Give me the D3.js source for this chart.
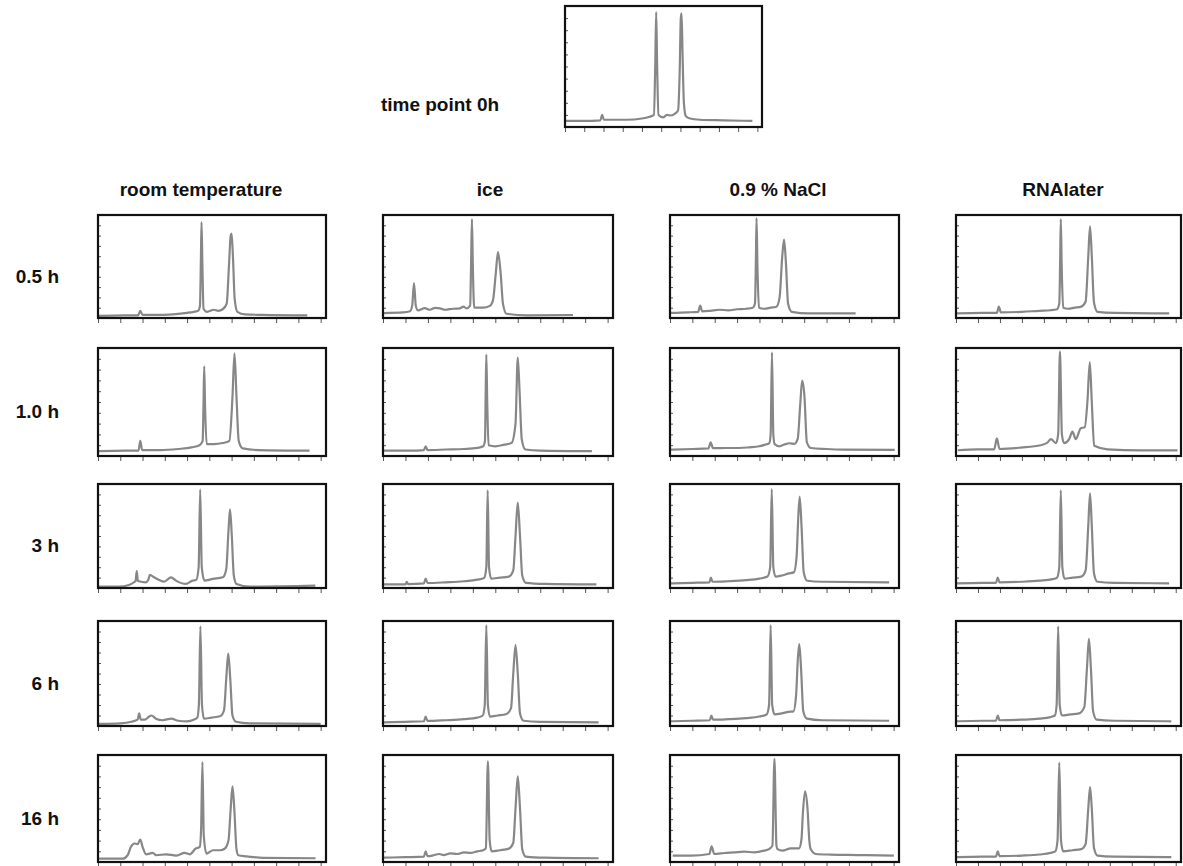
<!DOCTYPE html>
<html>
<head>
<meta charset="utf-8">
<script src="https://cdn.jsdelivr.net/npm/d3@7"></script>
<style>
  body { margin: 0; background: #fff; }
  svg { display: block; font-family: 'Liberation Sans', Arial, sans-serif; }
</style>
</head>
<body>
<div id="chart"></div>
<script>
// conditions and time points
const columns = ['room temperature', 'ice', '0.9 % NaCl', 'RNAlater']
const rows = ['0.5 h', '1.0 h', '3 h', '6 h', '16 h']
const timeTicks = [19, 24, 29, 34, 39, 44, 49, 54, 59, 64, 69]
const fuTicks = [0, 10, 20, 30, 40, 50, 60, 70, 80, 90, 100]

// electropherogram traces: [migration time (s), fluorescence (FU)]
const t0 = [[19, 5], [24, 5], [28.2, 5.5], [28.65, 10], [29.1, 6], [35, 6], [39, 7], [41, 8.5], [42.1, 10], [42.45, 50], [42.7, 95], [42.95, 50], [43.3, 10], [44.5, 8], [45.5, 10], [46.5, 9.5], [47.6, 11], [48.4, 14], [48.8, 45], [49.1, 90], [49.3, 94], [49.55, 60], [49.9, 20], [50.4, 9], [51.5, 7], [54, 6], [60, 5.5], [67.7, 5]]

const rt05 = [[19.2, 2], [25, 2.5], [28, 2.5], [28.5, 7], [29, 3], [33, 3], [37, 4], [39, 5], [40.5, 6], [41.5, 7], [41.9, 12], [42.1, 55], [42.25, 93], [42.45, 50], [42.7, 9], [43.5, 6], [45, 8], [46, 7], [47, 8.5], [47.9, 14], [48.4, 50], [48.8, 80], [49, 82], [49.3, 60], [49.7, 18], [50.3, 6], [52, 3.5], [56, 3], [66, 2.5]]
const rt10 = [[19.2, 4.5], [25, 5], [28.1, 5], [28.5, 14], [28.9, 5.5], [33, 5.5], [37, 6.5], [40, 8], [41.8, 10], [42.5, 14], [42.7, 50], [42.85, 83], [43.05, 45], [43.4, 11], [45, 11], [47, 12], [48.5, 14], [49.2, 55], [49.65, 95], [50.1, 55], [50.6, 14], [51.5, 7], [55, 5.5], [66.5, 5]]
const rt3 = [[19.15, 1.3], [23.7, 1.3], [25.95, 2.9], [27.1, 5.5], [27.45, 7], [27.7, 16.2], [27.95, 7], [28.2, 6.5], [29.7, 5.5], [30.3, 8], [30.65, 12.6], [31.6, 10.3], [32.75, 7.7], [33.85, 6.1], [35.4, 10.3], [36.5, 7.1], [38.75, 3.9], [40.25, 7.1], [41.05, 7.7], [41.6, 20], [41.95, 94.5], [42.3, 20], [42.9, 7.1], [44.8, 8.7], [47.05, 10.3], [47.8, 18], [48.3, 55], [48.65, 75.7], [49.05, 50], [49.5, 12], [50.1, 3.9], [53.1, 1.3], [67.8, 2.2]]
const rt6 = [[19.2, 2], [24, 2.5], [26.5, 4], [27.9, 6], [28.25, 12], [28.6, 6], [29.5, 6], [30.5, 9], [31, 10], [32, 7], [33.5, 5.5], [35.5, 7], [37, 5], [39, 4.5], [40.5, 6], [41.3, 8], [41.65, 20], [42, 95], [42.35, 20], [42.8, 7], [44.5, 8], [46.5, 9.5], [47.3, 15], [47.8, 45], [48.25, 69], [48.7, 45], [49.2, 10], [50, 4], [53, 2.5], [69, 2]]
const rt16 = [[19.25, 3.1], [24.5, 3.1], [25.65, 6.3], [26.4, 14.2], [27.15, 17.3], [27.9, 16.7], [28.5, 21], [29, 14.2], [29.8, 7.2], [31.3, 8.5], [32.05, 6.3], [34.3, 7.2], [36.6, 6], [38.45, 8.5], [39.6, 7.2], [40.95, 12.6], [41.85, 14.2], [42.15, 30], [42.45, 93.4], [42.75, 25], [43.35, 7.9], [44.85, 11], [46.4, 11], [47.5, 12.6], [48.3, 20], [48.8, 50], [49.2, 70.8], [49.6, 50], [50.1, 12], [50.5, 6.3], [52.4, 5.3], [56.15, 3.8], [67.85, 3.5]]

const ice05 = [[19.2, 4.8], [23.5, 5.4], [25, 6.5], [25.5, 12], [25.9, 34], [26.3, 12], [26.8, 7.3], [28.3, 9.6], [29.4, 8], [30.6, 9.9], [31.7, 9.4], [32.8, 8], [34.6, 9], [36.1, 9.4], [36.9, 11], [37.6, 9.4], [38.4, 12], [38.6, 50], [38.8, 96], [39, 50], [39.3, 10], [41.3, 10], [42.8, 11.8], [43.5, 17.6], [44.1, 43], [44.6, 64], [45.2, 43], [45.7, 14], [46.5, 4.1], [51, 2.5], [61.3, 2.9]]
const ice10 = [[19.2, 5], [25, 5], [28.1, 5.5], [28.5, 9], [28.9, 5.5], [33, 6], [37, 6.5], [40, 7.5], [41.3, 9], [41.7, 14], [41.85, 55], [42, 94], [42.2, 50], [42.5, 10], [44, 9], [46, 10.5], [47.6, 12], [48.5, 30], [49, 91], [49.4, 60], [49.9, 15], [50.7, 6], [54, 5], [65.5, 4.5]]
const ice3 = [[19.2, 3.5], [24, 3.5], [24.3, 6], [24.6, 3.8], [28.1, 4.5], [28.5, 9], [28.9, 4.8], [33, 5.5], [37, 6.5], [40, 8], [41.5, 9.5], [42, 20], [42.3, 94], [42.6, 20], [43.1, 9], [45, 10], [47, 11], [48, 17], [48.5, 50], [49, 82], [49.5, 50], [50, 12], [50.8, 5], [55, 4], [66.5, 3.5]]
const ice6 = [[19.2, 3.5], [24, 4], [28.1, 4.5], [28.5, 9], [28.9, 4.8], [33, 5.5], [37, 6.5], [40, 8], [41.2, 10], [41.65, 20], [42, 96], [42.35, 20], [42.8, 9], [44.5, 10], [46.5, 11.5], [47.5, 17], [48, 50], [48.5, 77], [49, 50], [49.5, 12], [50.3, 5], [54, 4], [67, 3.5]]
const ice16 = [[19.2, 4], [24, 4.5], [28.1, 5], [28.5, 10], [28.9, 5.5], [30, 6], [31.5, 7.5], [32.5, 6.5], [34, 8], [35.5, 7.5], [37, 9], [38.5, 8.5], [40, 10], [41.3, 11], [41.9, 13], [42.35, 94], [42.75, 20], [43.2, 10], [45, 11], [47, 12.5], [48, 18], [48.5, 50], [49, 80], [49.5, 50], [50, 12], [50.8, 5], [55, 4], [67, 3.5]]

const nacl05 = [[19.2, 5], [23, 5.5], [25.3, 6], [25.75, 12], [26.2, 6.5], [28, 7], [30, 8], [32, 7.5], [34, 8.5], [36, 9], [37.5, 10], [38, 14], [38.2, 55], [38.35, 97], [38.55, 50], [38.9, 10], [40, 9], [41.5, 10], [42.8, 11], [43.5, 20], [44.1, 60], [44.5, 76], [44.9, 55], [45.4, 14], [46.2, 6], [50, 4.5], [60.5, 4.5]]
const nacl10 = [[19.2, 5.9], [24, 6.5], [27.6, 7], [28.1, 12.7], [28.6, 7.2], [31.5, 7.4], [34.5, 7.4], [36.7, 8], [38.95, 9], [40.1, 10.3], [41.2, 12], [41.5, 20], [41.8, 96], [42.1, 20], [42.4, 11], [43.45, 9], [44.55, 10.6], [45.7, 11.8], [46.8, 11.2], [47.55, 15.8], [48.1, 46.6], [48.55, 69.8], [49.05, 55.9], [49.6, 12.7], [50.55, 7.4], [53.9, 6.5], [57.65, 5.9], [69.25, 5.6]]
const nacl3 = [[19.2, 4.5], [24, 5], [27.8, 5.5], [28.15, 10], [28.5, 6], [32, 6.5], [36, 7.5], [39, 9], [40.8, 11], [41.4, 20], [41.75, 95], [42.1, 20], [42.6, 11], [44, 12], [45.5, 14], [46.7, 15], [47.3, 30], [47.7, 70], [48, 88], [48.4, 60], [48.9, 15], [49.7, 7], [53, 6], [68, 5.5]]
const nacl6 = [[19.2, 4.5], [24, 5], [27.9, 5.5], [28.25, 10], [28.6, 6], [32, 6.5], [36, 7.5], [39, 9], [40.6, 11], [41.15, 20], [41.5, 96], [41.85, 20], [42.4, 11], [44, 12], [45.5, 13.5], [46.6, 14], [47.2, 30], [47.6, 65], [47.9, 78], [48.3, 55], [48.8, 14], [49.6, 7], [53, 5.5], [68, 5]]
const nacl16 = [[19.6, 5.9], [23.7, 5.9], [27.8, 7.5], [28.3, 14.6], [28.9, 7.5], [31.15, 8.4], [33.35, 9], [35.6, 9.7], [37.8, 9], [40.05, 10.6], [41.15, 12.1], [41.9, 15.3], [42.35, 96.3], [42.8, 15.3], [43.05, 12.1], [44.15, 10.6], [46, 12.8], [47.85, 12.8], [48.4, 21.5], [48.7, 45], [49.2, 66], [49.75, 49.5], [50.15, 20], [50.45, 12.1], [51.6, 7.5], [54.95, 6.9], [60.9, 6.5], [69.05, 5.9]]

const rna05 = [[19.2, 4.5], [25, 5], [28.3, 5], [28.75, 11], [29.2, 5.5], [34, 6], [38, 7], [40.5, 7.5], [42, 8.5], [42.5, 14], [42.7, 55], [42.85, 96], [43.05, 50], [43.4, 10], [44.5, 9], [46, 10], [47.5, 11], [48.5, 16], [49.1, 60], [49.5, 89], [49.9, 60], [50.4, 15], [51.2, 6], [55, 5], [67.5, 4.5]]
const rna10 = [[19.4, 5.3], [23.9, 6.2], [27.7, 6.2], [28.3, 16.3], [28.9, 6.5], [33.75, 7.8], [38.3, 10], [39.85, 12.5], [40.6, 15.6], [41.75, 11.9], [42.25, 20], [42.65, 96.9], [43.1, 20], [43.6, 11.9], [44.75, 15.6], [45.5, 22.5], [46.25, 15.6], [47.4, 25.7], [48.3, 26.6], [48.9, 50], [49.45, 86.9], [49.9, 50], [50.45, 9.4], [53.45, 6.2], [61, 5.3], [69.4, 5.3]]
const rna3 = [[19.2, 4.5], [25, 5], [28.1, 5], [28.5, 10], [28.9, 5.5], [34, 6], [38, 7], [41, 8.5], [42, 10], [42.5, 20], [42.85, 94], [43.2, 20], [43.7, 9], [45.5, 10], [47.5, 11], [48.5, 17], [49.1, 60], [49.5, 91], [49.9, 60], [50.4, 14], [51.2, 6], [55, 5], [67.5, 4.5]]
const rna6 = [[19.2, 4.5], [25, 5], [28.1, 5], [28.5, 10], [28.9, 5.5], [34, 6], [38, 7], [40.5, 8.5], [41.5, 10], [41.9, 20], [42.25, 95], [42.6, 20], [43.1, 10], [45, 11], [47, 12], [48.2, 18], [48.8, 55], [49.25, 83], [49.7, 55], [50.2, 14], [51, 6], [55, 5], [68, 4.5]]
const rna16 = [[19.2, 4.5], [25, 5], [28.1, 5], [28.5, 10], [28.9, 5.5], [34, 6], [38, 7], [40.5, 8.5], [41.6, 10], [42.1, 20], [42.5, 93], [42.9, 20], [43.4, 10], [45.5, 11], [47.5, 12], [48.5, 17], [49.1, 50], [49.5, 70], [49.9, 50], [50.4, 13], [51.2, 6], [55, 5], [68, 4.5]]

const traces = [
  [rt05, rt10, rt3, rt6, rt16],
  [ice05, ice10, ice3, ice6, ice16],
  [nacl05, nacl10, nacl3, nacl6, nacl16],
  [rna05, rna10, rna3, rna6, rna16]
]

// layout
const width = 1183
const height = 866
const colLeft = [98, 383, 670, 956]
const colWidth = [228, 230, 229, 225]
const colLabelX = [201, 490, 778, 1063]
const rowTop = [215, 348, 484, 621, 755]
const rowHeight = [103, 108, 104, 105, 107]

const svg = d3.select('#chart').append('svg')
  .attr('width', width)
  .attr('height', height)

svg.append('rect')
  .attr('width', width)
  .attr('height', height)
  .attr('fill', '#fff')

const line = (x, y) => d3.line()
  .x(d => x(d[0]))
  .y(d => y(d[1]))
  .curve(d3.curveMonotoneX)

const drawPanel = (trace, box) => {
  const x = d3.scaleLinear().domain([19, 70.2]).range([box.x, box.x + box.w])
  const y = d3.scaleLinear().domain([0, 100]).range([box.y + box.h, box.y])
  const g = svg.append('g')

  g.append('g')
    .attr('transform', `translate(0,${box.y + box.h})`)
    .call(d3.axisBottom(x).tickValues(timeTicks).tickSize(5).tickFormat(''))

  g.append('g')
    .attr('transform', `translate(${box.x},0)`)
    .call(d3.axisLeft(y).tickValues(fuTicks).tickSize(-3).tickFormat(''))

  g.selectAll('.domain').remove()
  g.selectAll('.tick line').attr('stroke', '#555')

  g.append('path')
    .datum(trace)
    .attr('d', line(x, y))
    .attr('fill', 'none')
    .attr('stroke', '#878787')
    .attr('stroke-width', 2.2)
    .attr('stroke-linejoin', 'round')

  g.append('rect')
    .attr('x', box.x)
    .attr('y', box.y)
    .attr('width', box.w)
    .attr('height', box.h)
    .attr('fill', 'none')
    .attr('stroke', '#111')
    .attr('stroke-width', 2.2)
}

// reference at time point 0h
drawPanel(t0, { x: 565, y: 6, w: 197, h: 121 })
svg.append('text')
  .attr('x', 440)
  .attr('y', 111)
  .attr('text-anchor', 'middle')
  .attr('font-size', 19)
  .attr('font-weight', 'bold')
  .attr('fill', '#111')
  .text('time point 0h')

columns.forEach((c, i) => {
  svg.append('text')
    .attr('x', colLabelX[i])
    .attr('y', 196)
    .attr('text-anchor', 'middle')
    .attr('font-size', 19)
    .attr('font-weight', 'bold')
    .attr('fill', '#111')
    .text(c)

  rows.forEach((r, j) => {
    drawPanel(traces[i][j], { x: colLeft[i], y: rowTop[j], w: colWidth[i], h: rowHeight[j] })
  })
})

rows.forEach((r, j) => {
  svg.append('text')
    .attr('x', 59)
    .attr('y', rowTop[j] + rowHeight[j] / 2 + 16)
    .attr('text-anchor', 'end')
    .attr('font-size', 19)
    .attr('font-weight', 'bold')
    .attr('fill', '#111')
    .text(r)
})
</script>
</body>
</html>
